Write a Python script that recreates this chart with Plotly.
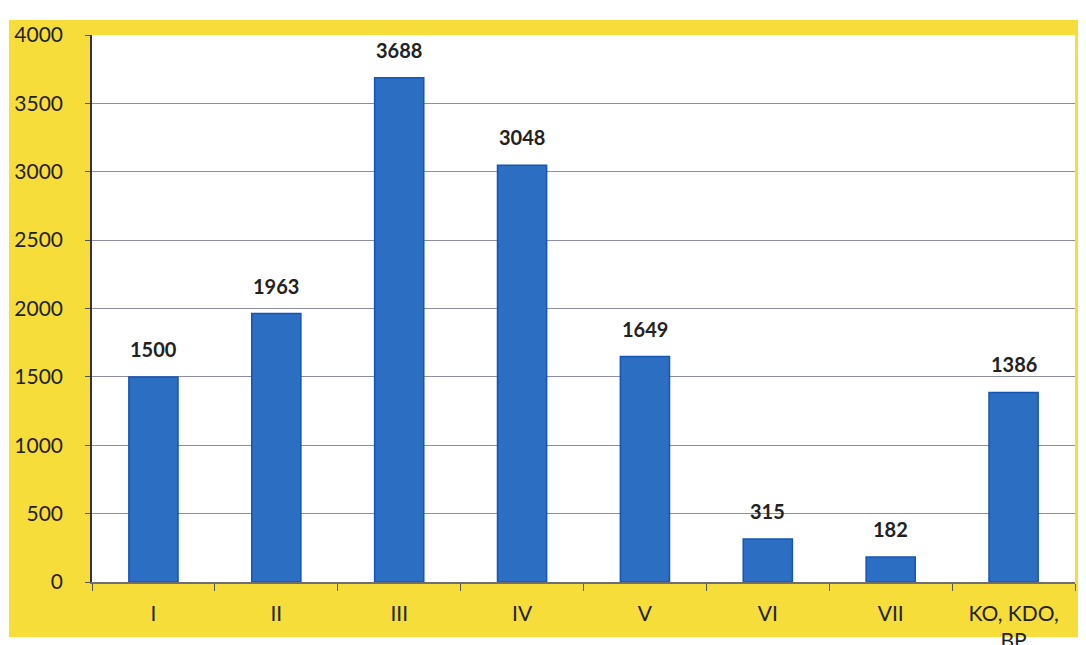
import plotly.graph_objects as go

categories = ["I", "II", "III", "IV", "V", "VI", "VII", "KO, KDO,<br>BP"]
values = [1500, 1963, 3688, 3048, 1649, 315, 182, 1386]
y_ticks = [0, 500, 1000, 1500, 2000, 2500, 3000, 3500, 4000]

# page body adds an 8px offset; screen px = figure px + 8
OFF = 8
W, H = 1086, 645
ml, mt = 92 - OFF, 35 - OFF
ph = 582 - 35
pw = 1075 - 92
mr = W - ml - pw
mb = H - mt - ph

def px_x(p):
    return (p - OFF - ml) / pw

def px_y(p):
    return (H - mb - (p - OFF)) / ph

fig = go.Figure()
fig.add_trace(go.Bar(
    x=categories, y=values,
    marker=dict(color="#2B6EC2", line=dict(color="#1555B5", width=1.5)),
    width=0.4,
))

for c, v in zip(categories, values):
    fig.add_annotation(x=c, y=v, text=str(v), showarrow=False, yanchor="bottom",
                       yshift=14, font=dict(family="Lato", size=20, color="#222222", weight="bold"))

fig.update_layout(
    width=W, height=H,
    margin=dict(l=ml, r=mr, t=mt, b=mb, autoexpand=False),
    paper_bgcolor="white", plot_bgcolor="white",
    showlegend=False,
    shapes=[
        dict(type="rect", xref="paper", yref="paper", layer="below",
             x0=px_x(9), x1=px_x(1081), y0=px_y(637), y1=px_y(20),
             fillcolor="#F6DD3A", line=dict(width=0)),
        dict(type="rect", xref="paper", yref="paper", layer="below",
             x0=0, x1=1, y0=0, y1=1, fillcolor="white", line=dict(width=0)),
    ],
    xaxis=dict(type="category", tickson="boundaries", ticks="outside", ticklen=7,
               tickcolor="#555555", showline=True, linecolor="#6E6E78", linewidth=1.5,
               tickfont=dict(family="Lato", size=21, color="#222222"), showgrid=False,
               ticklabelstandoff=12, automargin=False),
    yaxis=dict(range=[0, 4000], tickvals=y_ticks, ticks="outside", ticklen=5,
               tickcolor="#555555", showline=True, linecolor="#333333", linewidth=1.5,
               gridcolor="#8C8CA2", gridwidth=1.2,
               tickfont=dict(family="Lato", size=21, color="#222222"), zeroline=False,
               ticklabelstandoff=18, automargin=False),
)

fig.write_html("out.html")
